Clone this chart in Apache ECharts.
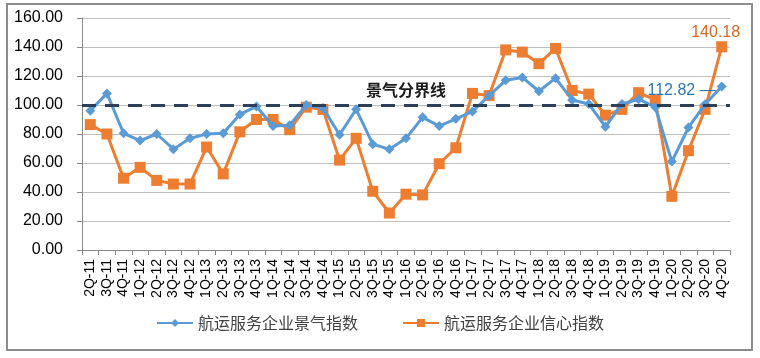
<!DOCTYPE html>
<html><head><meta charset="utf-8">
<script src="https://cdn.jsdelivr.net/npm/echarts@6/dist/echarts.min.js"></script>
<style>html,body{margin:0;padding:0;background:#fff}#c{width:760px;height:358px}</style>
</head><body><div id="c"></div>
<script>
const categories = ['2Q-11','3Q-11','4Q-11','1Q-12','2Q-12','3Q-12','4Q-12','1Q-13','2Q-13','3Q-13','4Q-13','1Q-14','2Q-14','3Q-14','4Q-14','1Q-15','2Q-15','3Q-15','4Q-15','1Q-16','2Q-16','3Q-16','4Q-16','1Q-17','2Q-17','3Q-17','4Q-17','1Q-18','2Q-18','3Q-18','4Q-18','1Q-19','2Q-19','3Q-19','4Q-19','1Q-20','2Q-20','3Q-20','4Q-20'];
const prosperityIndex = [96, 108, 80.5, 75.5, 80, 69.5, 77, 80, 80.5, 93.5, 99, 85.5, 86, 100, 98, 79.5, 97, 73, 69.5, 77, 91.5, 85.5, 90.5, 95.5, 106.5, 117, 119, 109.5, 118.5, 103.5, 100.7, 85, 100.7, 104, 98.5, 61, 84.5, 100.5, 112.82];
const confidenceIndex = [86.5, 80, 49.5, 57, 48, 45.5, 45.5, 71, 52.5, 81.5, 90, 90, 83, 98.5, 97, 62, 77, 40.5, 25.5, 38.5, 38, 59.5, 70.5, 108, 106.5, 138, 136.5, 128.5, 139, 110, 107.5, 93, 97, 108.5, 103.5, 37, 68.5, 97, 140.18];
const seriesNames = ['航运服务企业景气指数', '航运服务企业信心指数'];
const boundaryValue = 100;
const boundaryLabel = '景气分界线';

const chart = echarts.init(document.getElementById('c'), null, {renderer: 'canvas'});
const last = categories.length - 1;
const blueData = prosperityIndex.map((v, i) => i === last ? {
  value: v,
  label: {show: true, position: 'left', distance: 1, color: '#2E75B6', fontSize: 16,
    fontFamily: 'Liberation Sans', offset: [0, 4], formatter: p => p.value.toFixed(2) + ' \u2014'}
} : v);
const orangeData = confidenceIndex.map((v, i) => i === last ? {
  value: v,
  label: {show: true, position: 'top', distance: 1, color: '#D9661F', fontSize: 16,
    fontFamily: 'Liberation Sans', offset: [-6, 0], formatter: p => p.value.toFixed(2)}
} : v);

chart.setOption({
  animation: false,
  backgroundColor: '#fff',
  graphic: [{type: 'rect', shape: {x: 7, y: 4, width: 745, height: 346},
    style: {fill: 'none', stroke: '#8c8c8c', lineWidth: 2}, silent: true}],
  grid: {left: 82, right: 30, top: 18, bottom: 108},
  legend: {
    bottom: 22, left: 'center', itemWidth: 36, itemHeight: 10, itemGap: 44,
    textStyle: {fontSize: 16, color: '#404040', fontFamily: 'Noto Sans CJK SC'},
    data: seriesNames
  },
  xAxis: {
    type: 'category', data: categories, boundaryGap: true,
    axisLine: {lineStyle: {color: '#888', width: 1}},
    axisTick: {show: true, length: 5, lineStyle: {color: '#888'}},
    axisLabel: {rotate: 90, interval: 0, fontSize: 14, color: '#000', margin: 9, fontFamily: 'Liberation Sans'}
  },
  yAxis: {
    type: 'value', min: 0, max: 160, interval: 20,
    axisLine: {show: true, lineStyle: {color: '#888'}},
    axisTick: {show: true, length: 5, lineStyle: {color: '#888'}},
    splitLine: {lineStyle: {color: '#bfbfbf', width: 1}},
    axisLabel: {fontSize: 16, color: '#000', margin: 19, fontFamily: 'Liberation Sans',
      formatter: v => v.toFixed(2)}
  },
  series: [
    {
      name: seriesNames[0], type: 'line', data: blueData,
      symbol: 'diamond', symbolSize: 10,
      lineStyle: {color: '#5B9BD5', width: 3},
      itemStyle: {color: '#5B9BD5'},
      z: 3
    },
    {
      name: seriesNames[1], type: 'line', data: orangeData,
      symbol: 'rect', symbolSize: 11,
      lineStyle: {color: '#ED7D31', width: 3},
      itemStyle: {color: '#ED7D31'},
      z: 2,
      markLine: {
        silent: true, symbol: 'none',
        lineStyle: {color: '#2E3F58', width: 3, type: [14, 9]},
        label: {show: true, position: 'insideMiddleTop', formatter: boundaryLabel,
          fontSize: 16, fontWeight: 'bold', color: '#1a1a1a', fontFamily: 'Noto Sans CJK SC', distance: 7},
        data: [{yAxis: boundaryValue}]
      }
    }
  ]
});
</script></body></html>
